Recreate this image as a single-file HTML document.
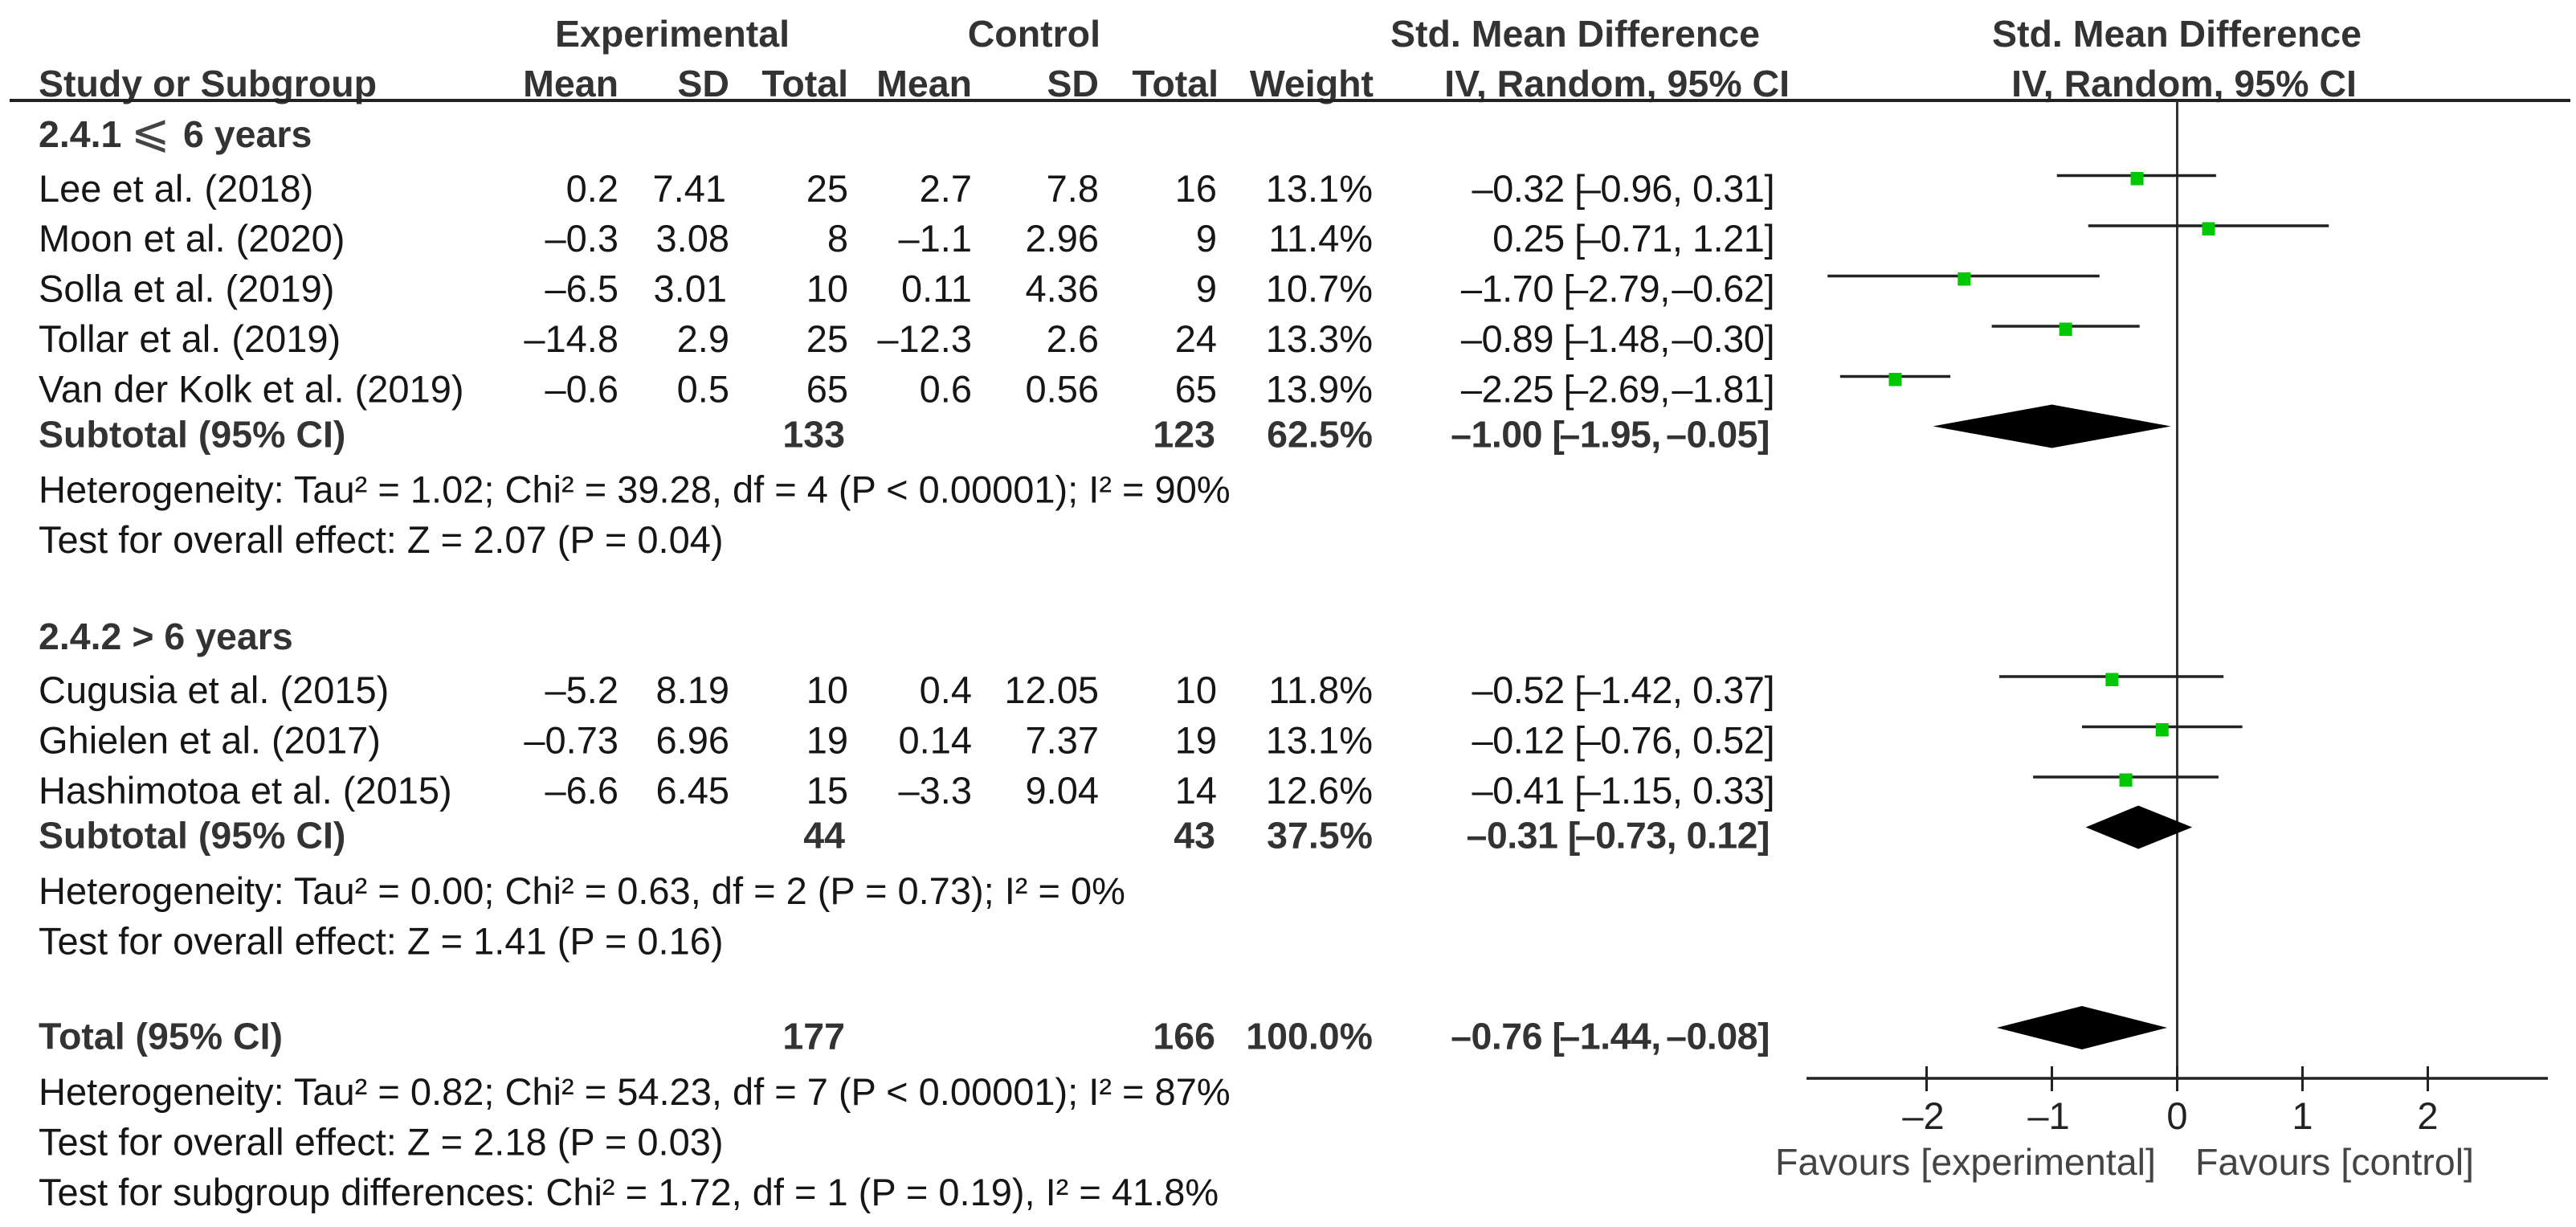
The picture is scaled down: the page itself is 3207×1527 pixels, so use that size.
<!DOCTYPE html>
<html lang="en">
<head>
<meta charset="utf-8">
<title>Forest plot: Std. Mean Difference</title>
<style>
html,body{margin:0;padding:0;background:#fff;}
svg{display:block;}
text{font-family:"Liberation Sans",Arial,sans-serif;font-size:47px;fill:#161616;}
.b{font-weight:bold;font-size:46.5px;fill:#333;}
.e{text-anchor:end;}
.m{text-anchor:middle;}
.f{fill:#444;font-size:46.6px;}
.ci{letter-spacing:-0.5px;}
</style>
</head>
<body>
<svg id="forest" xmlns="http://www.w3.org/2000/svg" width="3207" height="1527" viewBox="0 0 3207 1527">
<rect x="0" y="0" width="3207" height="1527" fill="#fff"/>

<g>
<text class="b" x="691" y="58">Experimental</text>
<text class="b e" x="1370" y="58">Control</text>
<text class="b m" x="1961" y="58">Std. Mean Difference</text>
<text class="b m" x="2710" y="58">Std. Mean Difference</text>
<text class="b" x="48" y="120">Study or Subgroup</text>
<text class="b e" x="770" y="120">Mean</text>
<text class="b e" x="908" y="120">SD</text>
<text class="b e" x="1056" y="120">Total</text>
<text class="b e" x="1210" y="120">Mean</text>
<text class="b e" x="1368" y="120">SD</text>
<text class="b e" x="1517" y="120">Total</text>
<text class="b e" x="1710" y="120">Weight</text>
<text class="b e" x="2228" y="120">IV, Random, 95% CI</text>
<text class="b m" x="2719" y="120">IV, Random, 95% CI</text>
</g>
<rect x="12" y="123" width="3188" height="4" fill="#222"/>

<text class="b" x="48" y="183">2.4.1<tspan x="163" style="font-family:'DejaVu Sans',sans-serif;font-weight:normal;font-size:58px;fill:#444">⩽</tspan><tspan x="228">6 years</tspan></text>

<g>
<text x="48" y="251">Lee et al. (2018)</text>
<text class="e" x="770" y="251">0.2</text>
<text class="e" x="904" y="251">7.41</text>
<text class="e" x="1056" y="251">25</text>
<text class="e" x="1210" y="251">2.7</text>
<text class="e" x="1368" y="251">7.8</text>
<text class="e" x="1515" y="251">16</text>
<text class="e" x="1709" y="251">13.1%</text>
<text class="e ci" x="2209" y="251">–0.32 [<tspan dx="-6">–0.96,</tspan> 0.31]</text>
</g>
<g>
<text x="48" y="313">Moon et al. (2020)</text>
<text class="e" x="770" y="313">–0.3</text>
<text class="e" x="908" y="313">3.08</text>
<text class="e" x="1056" y="313">8</text>
<text class="e" x="1210" y="313">–1.1</text>
<text class="e" x="1368" y="313">2.96</text>
<text class="e" x="1515" y="313">9</text>
<text class="e" x="1709" y="313">11.4%</text>
<text class="e ci" x="2209" y="313">0.25 [<tspan dx="-6">–0.71,</tspan> 1.21]</text>
</g>
<g>
<text x="48" y="375.5">Solla et al. (2019)</text>
<text class="e" x="770" y="375.5">–6.5</text>
<text class="e" x="905" y="375.5">3.01</text>
<text class="e" x="1056" y="375.5">10</text>
<text class="e" x="1210" y="375.5">0.11</text>
<text class="e" x="1368" y="375.5">4.36</text>
<text class="e" x="1515" y="375.5">9</text>
<text class="e" x="1709" y="375.5">10.7%</text>
<text class="e ci" x="2209" y="375.5">–1.70 [<tspan dx="-8">–2.79,</tspan><tspan dx="-10"> –0.62]</tspan></text>
</g>
<g>
<text x="48" y="438">Tollar et al. (2019)</text>
<text class="e" x="770" y="438">–14.8</text>
<text class="e" x="908" y="438">2.9</text>
<text class="e" x="1056" y="438">25</text>
<text class="e" x="1210" y="438">–12.3</text>
<text class="e" x="1368" y="438">2.6</text>
<text class="e" x="1515" y="438">24</text>
<text class="e" x="1709" y="438">13.3%</text>
<text class="e ci" x="2209" y="438">–0.89 [<tspan dx="-8">–1.48,</tspan><tspan dx="-10"> –0.30]</tspan></text>
</g>
<g>
<text x="48" y="500.5">Van der Kolk et al. (2019)</text>
<text class="e" x="770" y="500.5">–0.6</text>
<text class="e" x="908" y="500.5">0.5</text>
<text class="e" x="1056" y="500.5">65</text>
<text class="e" x="1210" y="500.5">0.6</text>
<text class="e" x="1368" y="500.5">0.56</text>
<text class="e" x="1515" y="500.5">65</text>
<text class="e" x="1709" y="500.5">13.9%</text>
<text class="e ci" x="2209" y="500.5">–2.25 [<tspan dx="-8">–2.69,</tspan><tspan dx="-10"> –1.81]</tspan></text>
</g>
<g>
<text class="b" x="48" y="556.5">Subtotal (95% CI)</text>
<text class="b e" x="1052" y="556.5">133</text>
<text class="b e" x="1513" y="556.5">123</text>
<text class="b e" x="1709" y="556.5">62.5%</text>
<text class="b e ci" x="2203" y="556.5">–1.00 [<tspan dx="-6">–1.95,</tspan><tspan dx="-6"> –0.05]</tspan></text>
</g>
<text x="48" y="625.5">Heterogeneity: Tau² = 1.02; Chi² = 39.28, df = 4 (P &lt; 0.00001); I² = 90%</text>
<text x="48" y="688">Test for overall effect: Z = 2.07 (P = 0.04)</text>

<text class="b" x="48" y="808">2.4.2 &gt; 6 years</text>

<g>
<text x="48" y="875">Cugusia et al. (2015)</text>
<text class="e" x="770" y="875">–5.2</text>
<text class="e" x="908" y="875">8.19</text>
<text class="e" x="1056" y="875">10</text>
<text class="e" x="1210" y="875">0.4</text>
<text class="e" x="1368" y="875">12.05</text>
<text class="e" x="1515" y="875">10</text>
<text class="e" x="1709" y="875">11.8%</text>
<text class="e ci" x="2209" y="875">–0.52 [<tspan dx="-6">–1.42,</tspan> 0.37]</text>
</g>
<g>
<text x="48" y="937.5">Ghielen et al. (2017)</text>
<text class="e" x="770" y="937.5">–0.73</text>
<text class="e" x="908" y="937.5">6.96</text>
<text class="e" x="1056" y="937.5">19</text>
<text class="e" x="1210" y="937.5">0.14</text>
<text class="e" x="1368" y="937.5">7.37</text>
<text class="e" x="1515" y="937.5">19</text>
<text class="e" x="1709" y="937.5">13.1%</text>
<text class="e ci" x="2209" y="937.5">–0.12 [<tspan dx="-6">–0.76,</tspan> 0.52]</text>
</g>
<g>
<text x="48" y="1000">Hashimotoa et al. (2015)</text>
<text class="e" x="770" y="1000">–6.6</text>
<text class="e" x="908" y="1000">6.45</text>
<text class="e" x="1056" y="1000">15</text>
<text class="e" x="1210" y="1000">–3.3</text>
<text class="e" x="1368" y="1000">9.04</text>
<text class="e" x="1515" y="1000">14</text>
<text class="e" x="1709" y="1000">12.6%</text>
<text class="e ci" x="2209" y="1000">–0.41 [<tspan dx="-6">–1.15,</tspan> 0.33]</text>
</g>
<g>
<text class="b" x="48" y="1055.5">Subtotal (95% CI)</text>
<text class="b e" x="1052" y="1055.5">44</text>
<text class="b e" x="1513" y="1055.5">43</text>
<text class="b e" x="1709" y="1055.5">37.5%</text>
<text class="b e ci" x="2203" y="1055.5">–0.31 [<tspan dx="-6">–0.73,</tspan> 0.12]</text>
</g>
<text x="48" y="1125">Heterogeneity: Tau² = 0.00; Chi² = 0.63, df = 2 (P = 0.73); I² = 0%</text>
<text x="48" y="1187.5">Test for overall effect: Z = 1.41 (P = 0.16)</text>

<g>
<text class="b" x="48" y="1305.5">Total (95% CI)</text>
<text class="b e" x="1052" y="1305.5">177</text>
<text class="b e" x="1513" y="1305.5">166</text>
<text class="b e" x="1709" y="1305.5">100.0%</text>
<text class="b e ci" x="2203" y="1305.5">–0.76 [<tspan dx="-6">–1.44,</tspan><tspan dx="-6"> –0.08]</tspan></text>
</g>
<text x="48" y="1375">Heterogeneity: Tau² = 0.82; Chi² = 54.23, df = 7 (P &lt; 0.00001); I² = 87%</text>
<text x="48" y="1437.5">Test for overall effect: Z = 2.18 (P = 0.03)</text>
<text x="48" y="1500">Test for subgroup differences: Chi² = 1.72, df = 1 (P = 0.19), I² = 41.8%</text>

<text class="f" x="2210" y="1462">Favours [experimental]</text>
<text class="f" x="2733" y="1462">Favours [control]</text>

<g id="plot"></g>
</svg>

<script>
// Study estimates (standardised mean difference and 95% CI)
const studies = ["Lee", "Moon", "Solla", "Tollar", "Van der Kolk", "Cugusia", "Ghielen", "Hashimotoa"];
const studyEffects = [-0.32, 0.25, -1.70, -0.89, -2.25, -0.52, -0.12, -0.41];
const studyLows = [-0.96, -0.71, -2.79, -1.48, -2.69, -1.42, -0.76, -1.15];
const studyHighs = [0.31, 1.21, -0.62, -0.30, -1.81, 0.37, 0.52, 0.33];

// Pooled estimates
const summaries = ["subtotal-1", "subtotal-2", "total"];
const summaryEffects = [-1.00, -0.31, -0.76];
const summaryLows = [-1.95, -0.73, -1.44];
const summaryHighs = [-0.05, 0.12, -0.08];

// Axis ticks
const tickValues = [-2, -1, 0, 1, 2];
const tickLabels = ["–2", "–1", "0", "1", "2"];

const SVG_NS = "http://www.w3.org/2000/svg";
const plot = document.getElementById("plot");
const xZero = 2710.5;
const xPerUnit = 156;
const axisY = 1342;

function xScale(value) {
  return xZero + value * xPerUnit;
}
function studyLineY(index) {
  return index < 5 ? 218.5 + 62.5 * index : 842 + 62.5 * (index - 5);
}
function summaryCenterY(index) {
  return index === 0 ? 530.5 : index === 1 ? 1029.5 : 1279;
}
function line(x1, y1, x2, y2, color, width) {
  const el = document.createElementNS(SVG_NS, "line");
  el.setAttribute("x1", x1);
  el.setAttribute("y1", y1);
  el.setAttribute("x2", x2);
  el.setAttribute("y2", y2);
  el.setAttribute("stroke", color);
  el.setAttribute("stroke-width", width);
  plot.appendChild(el);
  return el;
}

// Null-effect line and x axis
const zeroLine = line(xScale(0), 126, xScale(0), axisY + 16, "#333", 3);



const axisLine = line(2249, axisY, 3172, axisY, "#222", 3.5);



tickValues.forEach(function (value, i) {
  const tick = line(xScale(value), axisY - 15, xScale(value), axisY + 16, "#222", 3);
  
  

  const label = document.createElementNS(SVG_NS, "text");
  label.setAttribute("x", xScale(value) - (value < 0 ? 4 : 0));
  label.setAttribute("y", 1405);
  label.setAttribute("text-anchor", "middle");
  label.setAttribute("style", "fill:#222");
  label.textContent = tickLabels[i];
  
  
  plot.appendChild(label);
});

// Study confidence intervals and point estimates
studies.forEach(function (study, i) {
  const y = studyLineY(i);
  const ci = line(xScale(studyLows[i]), y, xScale(studyHighs[i]), y, "#222", 3.5);
  
  

  const box = document.createElementNS(SVG_NS, "rect");
  box.setAttribute("x", xScale(studyEffects[i]) - 8);
  box.setAttribute("y", y - 4.5);
  box.setAttribute("width", 16);
  box.setAttribute("height", 16.5);
  box.setAttribute("fill", "#00c800");
  
  
  plot.appendChild(box);
});

// Pooled-effect diamonds
summaries.forEach(function (summary, i) {
  const y = summaryCenterY(i);
  const left = xScale(summaryLows[i]);
  const mid = xScale(summaryEffects[i]);
  const right = xScale(summaryHighs[i]);
  const diamond = document.createElementNS(SVG_NS, "polygon");
  diamond.setAttribute("points", left + "," + y + " " + mid + "," + (y - 27) + " " + right + "," + y + " " + mid + "," + (y + 27));
  diamond.setAttribute("fill", "#000");
  
  
  plot.appendChild(diamond);
});
</script>
</body>
</html>
